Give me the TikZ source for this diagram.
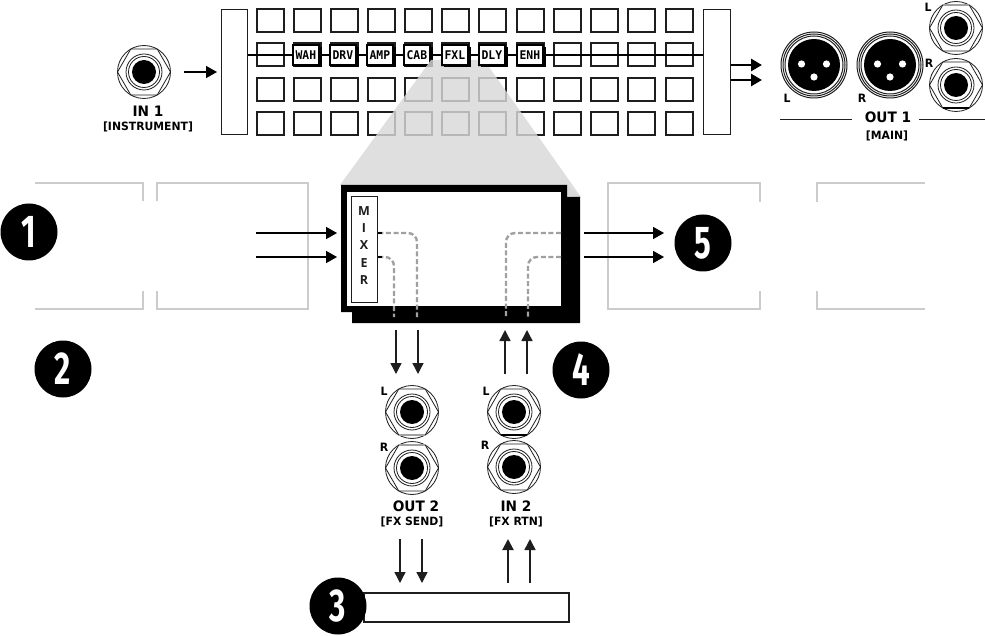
\documentclass[tikz,border=0pt]{standalone}
\usepackage{fontspec}
\usetikzlibrary{arrows.meta}
\setmainfont{Open Sans}
\newfontfamily\numfont[FakeStretch=0.68]{Fira Sans}
\newfontfamily\lblfont[FakeStretch=0.95]{DejaVu Sans}
\newfontfamily\lcdfont[FakeStretch=0.95]{DejaVu Sans Mono}
\definecolor{ghost}{HTML}{CCCCCC}
\definecolor{dashgray}{HTML}{A0A0A0}
\definecolor{ink}{HTML}{1E1E1E}
\definecolor{wedge}{HTML}{D9D9D9}
\tikzset{
  cell/.style={draw=ink,line width=1.1pt,fill=white,minimum width=27pt,minimum height=23pt,inner sep=0pt,outer sep=0pt,anchor=north west},
  railbar/.style={draw=ink,line width=1.1pt,fill=white,minimum width=26.5pt,minimum height=125pt,inner sep=0pt,anchor=north west},
  fxblock/.style={draw=black,line width=1.8pt,fill=white,minimum width=26pt,minimum height=20pt,inner sep=0pt,anchor=north west,font=\lcdfont\bfseries\fontsize{12}{12}\selectfont},
  ghostline/.style={draw=ghost,line width=1.2pt},
  sig/.style={draw=black,line width=1.1pt},
  arw/.style={draw=black,line width=1.6pt,-{Triangle[length=11pt,width=12pt]}},
  arwthin/.style={draw=ink,line width=1.4pt,-{Triangle[length=11pt,width=11pt]}},
  arwfat/.style={draw=black,line width=2.8pt,-{Triangle[length=11pt,width=12pt]}},
  dashpath/.style={draw=dashgray,line width=2.4pt,dash pattern=on 5pt off 2.6pt,rounded corners=9pt},
  jackline/.style={draw=ink,line width=.8pt},
  badge/.style={circle,fill=black,minimum size=57pt,inner sep=0pt,text=white,font=\numfont\bfseries\fontsize{46}{46}\selectfont},
  lbbig/.style={font=\lblfont\bfseries\fontsize{14.4}{14.4}\selectfont,inner sep=0pt},
  lbsmall/.style={font=\lblfont\bfseries\fontsize{11.4}{11.4}\selectfont,inner sep=0pt},
  lbside/.style={font=\lblfont\bfseries\fontsize{11.5}{11.5}\selectfont,inner sep=0pt},
  mixletter/.style={font=\bfseries\fontsize{12.5}{12.5}\selectfont,inner sep=0pt,text=ink},
}
\newcommand{\jackat}[3]{%
  \coordinate (#1) at (#2,#3);
  \draw[jackline] (#1) circle[radius=26.5pt];
  \draw[jackline] (#1) ++(0:26.5pt) -- ++(120:26.5pt) -- ++(180:26.5pt) -- ++(240:26.5pt) -- ++(300:26.5pt) -- ++(0:26.5pt) -- cycle;
  \draw[jackline,fill=white] (#1) circle[radius=18pt];
  \draw[jackline] (#1) circle[radius=15.5pt];
  \fill[black] (#1) circle[radius=12pt];
}
\newcommand{\xlrat}[3]{%
  \coordinate (#1) at (#2,#3);
  \draw[jackline,line width=1pt] (#1) circle[radius=33pt];
  \draw[jackline,line width=1pt] (#1) circle[radius=31pt];
  \draw[jackline,line width=1pt] (#1) circle[radius=29pt];
  \fill[black] (#1) circle[radius=26pt];
  \fill[white] (#2-12.5,#3-1) circle[radius=3.6pt] (#2+12.5,#3-1) circle[radius=3.6pt] (#2,#3+12) circle[radius=3.6pt];
}
\newcommand{\fxb}[4]{%
  \fill[black] (#3+2.5,#4+3) rectangle ++(27,20);
  \node[fxblock] (#1) at (#3,#4) {#2};
}
\begin{document}
\begin{tikzpicture}[x=1pt,y=-1pt]
\useasboundingbox (0,0) rectangle (985,636);
\fill[white] (0,0) rectangle (985,636);
% grid
\node[railbar] (barL) at (220.5,9) {};
\node[railbar] (barR) at (703,9) {};
\foreach \r/\yy in {1/9,2/43,3/78,4/112}{
  \foreach \c/\xx in {1/257,2/294,3/331,4/368,5/405,6/442,7/479,8/517,9/554,10/591,11/628,12/666}{
    \node[cell] (c\r-\c) at (\xx,\yy) {};
  }
}
\draw[sig] (barL.east |- 0,55) -- (barR.west |- 0,55);
\fxb{wah}{WAH}{292}{44}
\fxb{dru}{DRV}{329}{44}
\fxb{amp}{AMP}{366}{44}
\fxb{cab}{CAB}{403}{44}
% wedge
\fill[wedge,opacity=.82] (431,60) -- (484,60) -- (581,197) -- (340,185) -- cycle;
\fill[wedge] (340,185) -- (581,197) -- (567,185) -- cycle;
\fxb{fxl}{FXL}{441}{44}
\fxb{dly}{DLY}{478}{44}
\fxb{enh}{ENH}{516}{44}
% FX panel
\fill[black] (341,185) -- (567,185) -- (567,197) -- (580,197) -- (580,323) -- (352,323) -- (352,312) -- (341,312) -- cycle;
\node[draw=none,fill=white,minimum width=214pt,minimum height=114pt,inner sep=0pt,anchor=north west] (panel) at (347,192) {};
\node[draw=ink,line width=1.3pt,fill=white,minimum width=26pt,minimum height=106pt,inner sep=0pt,anchor=north west] (mixer) at (351,196) {};
\foreach \ch/\yy in {M/211,I/228,X/245,E/263,R/280}{\node[mixletter] (mix\ch) at (364,\yy) {\ch};}
% panel signal paths
\coordinate (mxA) at (mixer.east |- 0,233);
\coordinate (mxB) at (mixer.east |- 0,257);
\coordinate (snA) at (417,317);
\coordinate (snB) at (394,317);
\coordinate (rtA) at (506,317);
\coordinate (rtB) at (528,317);
\coordinate (prA) at (561,233);
\coordinate (prB) at (561,257);
\draw[dashpath] (mxA) -| (snA);
\draw[dashpath] (mxB) -| (snB);
\draw[dashpath] (prA) -| (rtA);
\draw[dashpath] (prB) -| (rtB);
\draw[black,line width=1.4pt] (mxA) -- ++(4,0) (mxB) -- ++(4,0);
% ghost boxes
\draw[ghostline] (35,183) -- (143,183) -- (143,201) (143,291) -- (143,309) -- (35,309);
\draw[ghostline] (157,201) -- (157,183) -- (308,183) -- (308,309) -- (157,309) -- (157,291);
\draw[ghostline] (760,202) -- (760,183) -- (608,183) -- (608,309) -- (760,309) -- (760,291);
\draw[ghostline] (925,183) -- (817,183) -- (817,202) (817,291) -- (817,309) -- (925,309);
% jacks
\jackat{inone}{144}{72}
\jackat{sendL}{412}{412}
\jackat{sendR}{412}{468}
\jackat{rtnL}{514}{412}
\jackat{rtnR}{514}{467}
\jackat{mainjL}{956}{28}
\jackat{mainjR}{956}{85}
\xlrat{xlrL}{814}{65}
\xlrat{xlrR}{890}{65}
\draw[dashgray,line width=1.6pt] (399,435) -- (425,435);
\draw[dashgray,line width=1.6pt] (399,445) -- (425,445);
\draw[dashgray,line width=1.6pt] (943,5) -- (969,5);
\draw[black,line width=1.4pt] (501,435) -- (527,435);
\draw[black,line width=1.4pt] (943,108) -- (969,108);
% labels
\node[lbbig] (t-in1) at (148,111) {IN 1};
\node[lbsmall] (t-inst) at (148,127) {[INSTRUMENT]};
\node[lbbig] (t-out1) at (888,117) {OUT 1};
\node[lbsmall] (t-main) at (887,136) {[MAIN]};
\node[lbbig] (t-out2) at (416,506) {OUT 2};
\node[lbsmall] (t-fxs) at (412,522) {[FX SEND]};
\node[lbbig] (t-in2) at (516,506) {IN 2};
\node[lbsmall] (t-fxr) at (516,522) {[FX RTN]};
\coordinate (ruleA) at (780,119); \coordinate (ruleB) at (852,119);
\coordinate (ruleC) at (919,119); \coordinate (ruleD) at (985,119);
\draw[ink,line width=.9pt] (ruleA) -- (ruleB);
\draw[ink,line width=.9pt] (ruleC) -- (ruleD);
\node[lbside] (lXL) at (787,98) {L};
\node[lbside] (lXR) at (862,98) {R};
\node[lbside] (lJL) at (928,7) {L};
\node[lbside] (lJR) at (929,63) {R};
\node[lbside] (lSL) at (384,391) {L};
\node[lbside] (lSR) at (384,447) {R};
\node[lbside] (lRL) at (486,391) {L};
\node[lbside] (lRR) at (485,445) {R};
% FX bottom box
\node[draw=ink,line width=1.5pt,fill=white,minimum width=205pt,minimum height=29pt,inner sep=0pt,anchor=north west] (fxbox) at (363,592) {};
% badges
\node[badge] (b1) at (29,232) {1};
\node[badge] (b2) at (63,369) {2};
\node[badge] (b3) at (338,606) {3};
\node[badge] (b4) at (581,370) {4};
\node[badge] (b5) at (703,243) {5};
% arrows
\coordinate (a1) at (184,72); \coordinate (a2) at (217,72);
\draw[arw] (a1) -- (a2);
\foreach \yy/\nm in {65/p,80/q}{
  \coordinate (o\nm) at (barR.east |- 0,\yy); \coordinate (e\nm) at (762,\yy);
  \draw[arwfat] (o\nm) -- (e\nm);
}
\foreach \yy/\nm in {233/p,257/q}{
  \coordinate (li\nm) at (256,\yy); \coordinate (le\nm) at (337,\yy);
  \draw[arw] (li\nm) -- (le\nm);
  \coordinate (ri\nm) at (584,\yy); \coordinate (re\nm) at (664,\yy);
  \draw[arw] (ri\nm) -- (re\nm);
}
\foreach \xx/\nm in {396/a,418/b}{
  \coordinate (ds\nm) at (\xx,330); \coordinate (de\nm) at (\xx,374);
  \draw[arwthin] (ds\nm) -- (de\nm);
}
\foreach \xx/\nm in {505/a,527/b}{
  \coordinate (us\nm) at (\xx,374); \coordinate (ue\nm) at (\xx,330);
  \draw[arwthin] (us\nm) -- (ue\nm);
}
\foreach \xx/\nm in {400/a,422/b}{
  \coordinate (fs\nm) at (\xx,539); \coordinate (fe\nm) at (\xx,583);
  \draw[arwthin] (fs\nm) -- (fe\nm);
}
\foreach \xx/\nm/\w in {508/a/2.1pt,530/b/1.5pt}{
  \coordinate (gs\nm) at (\xx,583); \coordinate (ge\nm) at (\xx,539);
  \draw[arwthin,line width=\w] (gs\nm) -- (ge\nm);
}
\end{tikzpicture}
\end{document}
